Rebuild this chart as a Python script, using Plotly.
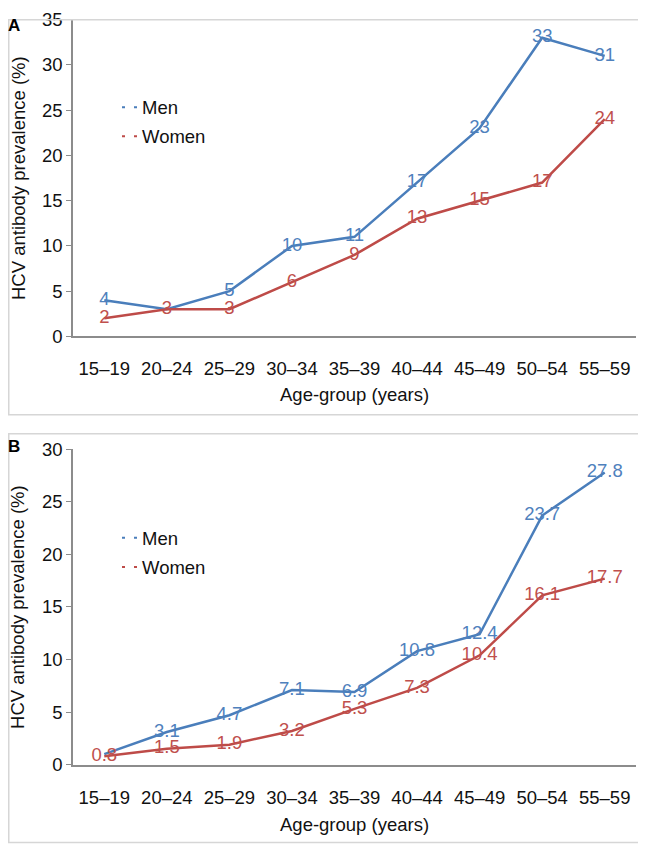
import plotly.graph_objects as go

# age groups shared by both panels
age_groups = ["15–19", "20–24", "25–29", "30–34", "35–39", "40–44", "45–49", "50–54", "55–59"]

# panel A
men_a = [4, 3, 5, 10, 11, 17, 23, 33, 31]
women_a = [2, 3, 3, 6, 9, 13, 15, 17, 24]
men_a_hidden = [1]          # label sits under the women label

# panel B
men_b = [1.0, 3.1, 4.7, 7.1, 6.9, 10.8, 12.4, 23.7, 27.8]
women_b = [0.8, 1.5, 1.9, 3.2, 5.3, 7.3, 10.4, 16.1, 17.7]
men_b_hidden = [0]

BLUE = "#4a7ebb"
RED = "#be4b48"
BLUE_TXT = "#4f81bd"
RED_TXT = "#c0504d"
FONT = "Liberation Sans, Arial, sans-serif"
FS = 18.5
W, H = 638, 846
# measured page placement of the figure in the photo
X_OFF = 8
Y_OFF, Y_SCALE = 16.3, 0.9753


def px_x(s):
    return (s - X_OFF) / W


def px_y(s):
    return 1 - (s - Y_OFF) / Y_SCALE / H


def labels(vals, hidden=()):
    return ["" if i in hidden else f"{v:g}" for i, v in enumerate(vals)]


fig = go.Figure()

panels = [
    ("x", "y", men_a, women_a, men_a_hidden, "legend"),
    ("x2", "y2", men_b, women_b, men_b_hidden, "legend2"),
]
for xa, ya, men, women, hid, leg in panels:
    for vals, col, tcol, name, h in [(men, BLUE, BLUE_TXT, "Men", hid),
                                      (women, RED, RED_TXT, "Women", ())]:
        fig.add_trace(go.Scatter(
            x=age_groups, y=vals, xaxis=xa, yaxis=ya,
            mode="lines+text", text=labels(vals, h),
            textposition="middle center",
            textfont=dict(color=tcol, size=FS, family=FONT),
            line=dict(color=col, width=2.5), showlegend=False,
            cliponaxis=False,
        ))
        # legend-only entry with the short dashed key
        fig.add_trace(go.Scatter(
            x=[None], y=[None], xaxis=xa, yaxis=ya, mode="lines", name=name,
            legendgroup=leg + name,
            line=dict(color=col, width=2, dash="0px,15px,3px,9px,3px,10px"), legend=leg,
        ))

xdom = [px_x(73), px_x(636)]
axis_common = dict(showgrid=False, zeroline=False, showline=True, linecolor="#8c8c8c",
                   linewidth=1.5, tickfont=dict(size=FS, family=FONT, color="#111"))
xcommon = dict(axis_common, range=[-0.5, 8.5], ticks="", ticklabelstandoff=15)
ycommon = dict(axis_common, ticks="outside", ticklen=5, tickcolor="#8c8c8c")

leg_common = dict(xanchor="left", yanchor="top", bgcolor="rgba(0,0,0,0)", itemwidth=30,
                  traceorder="grouped", tracegroupgap=2, font=dict(size=FS, family=FONT))

txt = dict(xref="paper", yref="paper", showarrow=False, xanchor="center", yanchor="middle",
           font=dict(size=FS, family=FONT, color="#111"))
annotations = []
for letter, ly, top, bot, xt in [("A", 23, 17, 333.7, 392), ("B", 444, 446.7, 762, 822)]:
    annotations.append(dict(txt, text=f"<b>{letter}</b>", x=px_x(14), y=px_y(ly),
                            font=dict(size=17, family=FONT, color="#000")))
    annotations.append(dict(txt, text="HCV antibody prevalence (%)", textangle=-90,
                            x=px_x(18), y=px_y((top + bot) / 2)))
    annotations.append(dict(txt, text="Age-group (years)", x=px_x(354.5), y=px_y(xt)))

fig.update_layout(
    width=W, height=H, margin=dict(l=0, r=0, t=0, b=0),
    paper_bgcolor="white", plot_bgcolor="white",
    font=dict(family=FONT, size=FS, color="#111"),
    xaxis=dict(xcommon, domain=xdom, anchor="y"),
    yaxis=dict(ycommon, domain=[px_y(333.7), px_y(17)], range=[0, 35], dtick=5, anchor="x"),
    xaxis2=dict(xcommon, domain=xdom, anchor="y2"),
    yaxis2=dict(ycommon, domain=[px_y(762), px_y(446.7)], range=[0, 30], dtick=5, anchor="x2"),
    legend=dict(leg_common, x=px_x(102), y=px_y(86)),
    legend2=dict(leg_common, x=px_x(102), y=px_y(516.7)),
    shapes=[
        dict(type="rect", xref="paper", yref="paper", x0=0.75 / W, x1=px_x(643),
             y0=px_y(412), y1=1 - 0.75 / H, line=dict(color="#d6d6d6", width=1.5)),
        dict(type="rect", xref="paper", yref="paper", x0=0.75 / W, x1=px_x(643),
             y0=px_y(840), y1=px_y(431), line=dict(color="#d6d6d6", width=1.5)),
    ],
    annotations=annotations,
)

fig.write_html("out.html")
